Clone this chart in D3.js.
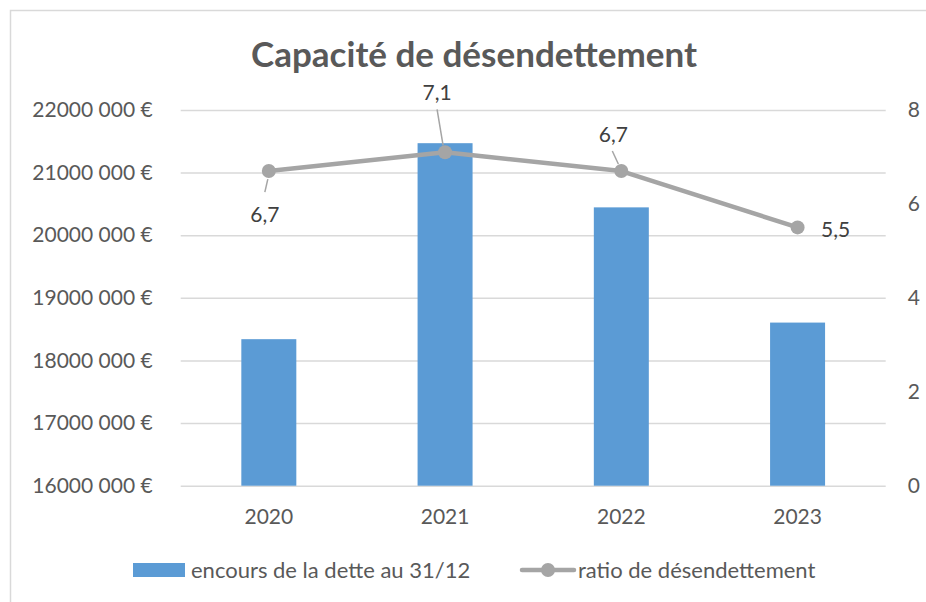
<!DOCTYPE html>
<html>
<head>
<meta charset="utf-8">
<script src="https://cdn.jsdelivr.net/npm/d3@7"></script>
<style>
  body { margin: 0; background: #fff; }
  svg text { font-family: Lato, "Open Sans", sans-serif; }
</style>
</head>
<body>
<svg id="chart" width="926" height="602"></svg>
<script>
// chart values
var years = ['2020', '2021', '2022', '2023']
var encours = [18340000, 21470000, 20445000, 18605000]
var ratio = [6.7, 7.1, 6.7, 5.5]
var leftTicks = [16000000, 17000000, 18000000, 19000000, 20000000, 21000000, 22000000]
var rightTicks = [0, 2, 4, 6, 8]

// where each ratio label sits relative to its point (dx, dy of label centre, leader line from/to)
var labelPlace = [
  { dx: -4, dy: 42, line: [[-1, 8], [-4, 21]] },
  { dx: -8, dy: -61, line: [[-2, -7], [-8, -43]] },
  { dx: -8, dy: -38, line: [[-3, -7], [-9, -20]] },
  { dx: 38, dy: 1, line: null }
]

var svg = d3.select('#chart')
var plotL = 180.7, plotR = 885.7, plotT = 110, plotB = 485.7

// frame
svg.append('path')
  .attr('d', 'M10.5,602 L10.5,10.5 L926,10.5')
  .attr('fill', 'none')
  .attr('stroke', '#d9d9d9')
  .attr('stroke-width', 1.5)

var x = d3.scaleBand().domain(years).range([plotL, plotR]).padding(0)
var y = d3.scaleLinear().domain([16000000, 22000000]).range([plotB, plotT])
var y2 = d3.scaleLinear().domain([0, 8]).range([plotB, plotT])

function euro(v) {
  var m = Math.floor(v / 1000000)
  var rest = Math.round((v % 1000000) / 1000)
  return m + '' + d3.format('03d')(rest) + ' 000 €'
}

// title
svg.append('text')
  .attr('x', 474).attr('y', 67)
  .attr('text-anchor', 'middle')
  .attr('font-size', 35)
  .attr('font-weight', 'bold')
  .attr('fill', '#595959')
  .text('Capacité de désendettement')

// gridlines + left axis
var gy = svg.append('g').attr('transform', 'translate(' + plotL + ',0)')
  .call(d3.axisLeft(y).tickValues(leftTicks).tickSize(-(plotR - plotL)).tickPadding(28).tickFormat(euro))
gy.select('.domain').remove()
gy.selectAll('line').attr('stroke', '#d9d9d9').attr('stroke-width', 1.5)
gy.selectAll('text').attr('font-size', 21).attr('fill', '#595959')

// right axis
var gr = svg.append('g').attr('transform', 'translate(' + plotR + ',0)')
  .call(d3.axisRight(y2).tickValues(rightTicks).tickSize(0).tickPadding(22).tickFormat(d3.format('d')))
gr.select('.domain').remove()
gr.selectAll('text').attr('font-size', 21).attr('fill', '#595959')

// bottom axis labels
var gx = svg.append('g').attr('transform', 'translate(0,' + plotB + ')')
  .call(d3.axisBottom(x).tickSize(0).tickPadding(23))
gx.select('.domain').remove()
gx.selectAll('text').attr('font-size', 21).attr('fill', '#595959')

// bars
var bw = x.bandwidth() * 0.312
svg.selectAll('rect.bar').data(encours).enter().append('rect')
  .attr('class', 'bar')
  .attr('x', function(d, i) { return x(years[i]) + x.bandwidth() / 2 - bw / 2 })
  .attr('y', function(d) { return y(d) })
  .attr('width', bw)
  .attr('height', function(d) { return plotB - y(d) })
  .attr('fill', '#5b9bd5')

// ratio line
var pts = ratio.map(function(d, i) { return [x(years[i]) + x.bandwidth() / 2, y2(d)] })
svg.append('path')
  .attr('d', d3.line()(pts))
  .attr('fill', 'none')
  .attr('stroke', '#a5a5a5')
  .attr('stroke-width', 4.5)
  .attr('stroke-linejoin', 'round')
  .attr('stroke-linecap', 'round')

// leader lines
pts.forEach(function(p, i) {
  var lp = labelPlace[i]
  if (!lp.line) return
  svg.append('line')
    .attr('x1', p[0] + lp.line[0][0]).attr('y1', p[1] + lp.line[0][1])
    .attr('x2', p[0] + lp.line[1][0]).attr('y2', p[1] + lp.line[1][1])
    .attr('stroke', '#a5a5a5')
    .attr('stroke-width', 1.5)
})

svg.selectAll('circle.pt').data(pts).enter().append('circle')
  .attr('class', 'pt')
  .attr('cx', function(d) { return d[0] })
  .attr('cy', function(d) { return d[1] })
  .attr('r', 7)
  .attr('fill', '#a5a5a5')

// data labels
svg.selectAll('text.lbl').data(ratio).enter().append('text')
  .attr('class', 'lbl')
  .attr('x', function(d, i) { return pts[i][0] + labelPlace[i].dx })
  .attr('y', function(d, i) { return pts[i][1] + labelPlace[i].dy })
  .attr('text-anchor', 'middle')
  .attr('dominant-baseline', 'central')
  .attr('font-size', 21)
  .attr('fill', '#404040')
  .text(function(d) { return d3.format('.1f')(d).replace('.', ',') })

// legend
var lg = svg.append('g')
lg.append('rect').attr('x', 133).attr('y', 563).attr('width', 52).attr('height', 14).attr('fill', '#5b9bd5')
lg.append('text').attr('x', 191).attr('y', 578).attr('font-size', 22).attr('fill', '#595959')
  .text('encours de la dette au 31/12')
lg.append('line').attr('x1', 522).attr('y1', 570).attr('x2', 574).attr('y2', 570)
  .attr('stroke', '#a5a5a5').attr('stroke-width', 4.5).attr('stroke-linecap', 'round')
lg.append('circle').attr('cx', 548).attr('cy', 570).attr('r', 7).attr('fill', '#a5a5a5')
lg.append('text').attr('x', 578).attr('y', 578).attr('font-size', 22).attr('fill', '#595959')
  .text('ratio de désendettement')
</script>
</body>
</html>
